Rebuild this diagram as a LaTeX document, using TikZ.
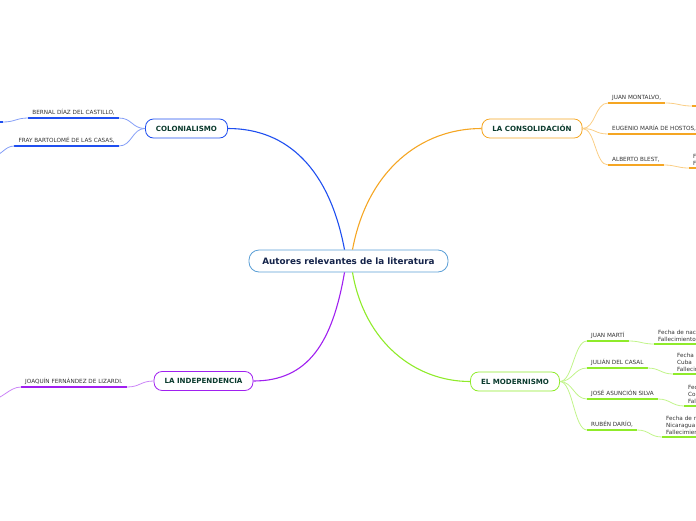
\documentclass[tikz,border=0pt]{standalone}
\usepackage{fontspec}
\setmainfont{DejaVu Sans}
\usetikzlibrary{positioning}
\definecolor{rootln}{HTML}{5B9FD6}
\definecolor{roottxt}{HTML}{15244A}
\definecolor{brtxt}{HTML}{0B3B2E}
\definecolor{leaftxt}{HTML}{333333}
\definecolor{cblue}{HTML}{1F4FF0}
\definecolor{corange}{HTML}{F5A623}
\definecolor{cpurple}{HTML}{A020F0}
\definecolor{cgreen}{HTML}{8FEB2A}

\begin{document}
\begin{tikzpicture}[x=1pt, y=-1pt,
        root/.style={rectangle, draw=rootln, thick, rounded corners=10pt, fill=white,
                     minimum width=199pt, minimum height=22pt, text=roottxt,
                     font=\bfseries\fontsize{8.8}{10}\selectfont},
        br/.style={rectangle, draw=#1, thick, rounded corners=8pt, fill=white,
                   minimum height=19pt, inner xsep=10.5pt, text=brtxt,
                   font=\bfseries\fontsize{7.1}{8}\selectfont},
        leaf/.style={inner xsep=4pt, inner ysep=2pt, text height=4.5pt, text depth=1pt,
                     text=leaftxt, font=\fontsize{5.7}{7}\selectfont},
        kid/.style={leaf, text width=60pt, align=left, text height=, text depth=,
                    inner ysep=2.5pt},
        main/.style={draw=#1, line width=1.1pt},
        lk/.style={draw=#1!55, line width=0.8pt},
        ul/.style={draw=#1, line width=1.7pt}]
      \useasboundingbox (0,0) rectangle (696,520);
      \clip (0,0) rectangle (696,520);

      % centre and main branches
      \node[root] (root) at (348.5,261) {Autores relevantes de la literatura};
      \node[br=cblue] (col) at (186.5,128.5) {COLONIALISMO};
      \node[br=corange] (con) at (532,128.5) {LA CONSOLIDACIÓN};
      \node[br=cpurple] (ind) at (203.5,381) {LA INDEPENDENCIA};
      \node[br=cgreen] (mod) at (515,381.5) {EL MODERNISMO};

      \draw[main=cblue] ([xshift=-4pt]root.north) .. controls +(-15,-80) and +(60,0) .. (col.east);
      \draw[main=corange] ([xshift=4pt]root.north) .. controls +(15,-80) and +(-60,0) .. (con.west);
      \draw[main=cpurple] ([xshift=-4pt]root.south) .. controls +(-12,70) and +(55,0) .. (ind.east);
      \draw[main=cgreen] ([xshift=4pt]root.south) .. controls +(12,70) and +(-55,0) .. (mod.west);

      % colonialismo
      \node[leaf, anchor=south east] (bernal) at (119,118) {BERNAL DÍAZ DEL CASTILLO,};
      \node[leaf, anchor=south east] (fray) at (119,146) {FRAY BARTOLOMÉ DE LAS CASAS,};
      \coordinate (bernalkid) at (3,122);
      \coordinate (fraykid) at (-8,156);
      \foreach \n in {bernal, fray} {
        \draw[lk=cblue] (col.west) .. controls +(-13,0) and +(13,0) .. (\n.south east);
        \draw[ul=cblue] (\n.south west) -- (\n.south east);
      }
      \draw[lk=cblue] (bernal.south west) .. controls +(-12,0) and +(12,0) .. (bernalkid);
      \draw[ul=cblue] (bernalkid) -- +(-20,0);
      \draw[lk=cblue] (fray.south west) .. controls +(-10,0) and +(10,0) .. (fraykid);

      % la independencia
      \node[leaf, anchor=south east] (joaquin) at (127,387) {JOAQUÍN FERNÁNDEZ DE LIZARDI.};
      \coordinate (joaquinkid) at (-10,400);
      \draw[lk=cpurple] (ind.west) .. controls +(-13,0) and +(13,0) .. (joaquin.south east);
      \draw[ul=cpurple] (joaquin.south west) -- (joaquin.south east);
      \draw[lk=cpurple] (joaquin.south west) .. controls +(-12,0) and +(12,0) .. (joaquinkid);

      % la consolidacion
      \node[leaf, anchor=south west] (montalvo) at (608,103) {JUAN MONTALVO,};
      \node[leaf, anchor=south west] (hostos) at (608,134) {EUGENIO MARÍA DE HOSTOS,};
      \node[leaf, anchor=south west] (blest) at (608,165) {ALBERTO BLEST,};
      \foreach \n in {montalvo, hostos, blest} {
        \draw[lk=corange] (con.east) .. controls +(13,0) and +(-13,0) .. (\n.south west);
        \draw[ul=corange] (\n.south west) -- (\n.south east);
      }
      \coordinate (montalvokid) at (692,106);
      \node[kid, anchor=south west] (blestkid) at (689,168) {F\\F};
      \draw[lk=corange] (montalvo.south east) .. controls +(12,0) and +(-12,0) .. (montalvokid);
      \draw[ul=corange] (montalvokid) -- +(20,0);
      \draw[lk=corange] (blest.south east) .. controls +(12,0) and +(-12,0) .. (blestkid.south west);
      \draw[ul=corange] (blestkid.south west) -- (blestkid.south east);

      % el modernismo
      \node[leaf, anchor=south west] (marti) at (587,341) {JUAN MARTÍ};
      \node[leaf, anchor=south west] (casal) at (587,368) {JULIÁN DEL CASAL};
      \node[leaf, anchor=south west] (silva) at (587,399) {JOSÉ ASUNCIÓN SILVA};
      \node[leaf, anchor=south west] (dario) at (587,430) {RUBÉN DARÍO,};
      \node[kid, anchor=south west] (martikid) at (654,344) {Fecha de naci\\Fallecimiento:};
      \node[kid, anchor=south west] (casalkid) at (673,374) {Fecha d\\Cuba\\Fallecim};
      \node[kid, anchor=south west] (silvakid) at (684,406) {Fec\\Col\\Fal};
      \node[kid, anchor=south west] (dariokid) at (662,437) {Fecha de n\\Nicaragua\\Fallecimien};
      \foreach \n in {marti, casal, silva, dario} {
        \draw[lk=cgreen] (mod.east) .. controls +(13,0) and +(-13,0) .. (\n.south west);
        \draw[ul=cgreen] (\n.south west) -- (\n.south east);
        \draw[lk=cgreen] (\n.south east) .. controls +(12,0) and +(-12,0) .. (\n kid.south west);
        \draw[ul=cgreen] (\n kid.south west) -- (\n kid.south east);
      }
    \end{tikzpicture}
\end{document}
